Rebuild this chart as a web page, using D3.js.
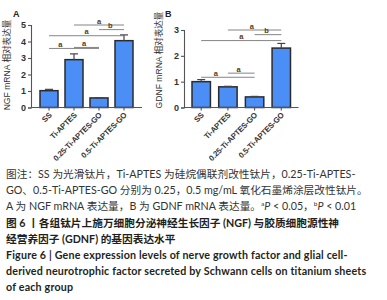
<!DOCTYPE html>
<html>
<head>
<meta charset="utf-8">
<script src="https://cdn.jsdelivr.net/npm/d3@7"></script>
<style>
  html, body { margin: 0; padding: 0; background: #fff; }
  svg { display: block; }
  .cap { font-family: Lato, "Noto Sans CJK SC", sans-serif; font-size: 10.7px; fill: #333; }
  .capb { font-weight: bold; fill: #231f20; }
  .en { letter-spacing: 0.18px; }
</style>
</head>
<body>
<svg id="chart" width="387" height="300"></svg>
<script>
// ---- data ----
const groups = ["SS", "Ti-APTES", "0.25-Ti-APTES-GO", "0.5-Ti-APTES-GO"];
const ngfValues = [1.02, 2.9, 0.58, 4.05];
const ngfErrors = [0.08, 0.35, 0.02, 0.35];
const gdnfValues = [1.0, 0.8, 0.41, 2.3];
const gdnfErrors = [0.08, 0.02, 0.02, 0.18];
const ngfTicks = [0, 1, 2, 3, 4, 5];
const gdnfTicks = [0, 1, 2, 3];
// 顯著性標記: from, to, 線高度(數值), 標籤, 標籤位置(組別索引)
const ngfSig = [
  { from: 1, to: 3, level: 5.0, label: "a", at: 2.0 },
  { from: 2, to: 3, level: 4.72, label: "b", at: 2.45 },
  { from: 0, to: 3, level: 4.35, label: "a", at: 1.5 },
  { from: 1, to: 2, level: 3.64, label: "a", at: 1.4 },
  { from: 0, to: 2, level: 3.58, label: "a", at: 0.45 }
];
const gdnfSig = [
  { from: 1, to: 3, level: 3.0, label: "a", at: 1.9 },
  { from: 2, to: 3, level: 2.82, label: "b", at: 2.45 },
  { from: 0, to: 3, level: 2.59, label: "a", at: 1.5 },
  { from: 1, to: 2, level: 1.33, label: "a", at: 1.4 },
  { from: 0, to: 2, level: 1.17, label: "a", at: 0.55 }
];

const svg = d3.select("#chart");
const chartFont = "'Liberation Sans', Arial, sans-serif";

function drawPanel(opt) {
  const g = svg.append("g");
  const x = d3.scaleBand().domain(groups).range([opt.x0, opt.x1])
    .paddingInner(opt.padIn).paddingOuter(opt.padOut);
  const y = d3.scaleLinear().domain([0, opt.max]).range([107.5, opt.top]);
  const cx = i => x(groups[i]) + x.bandwidth() / 2;

  // bars
  g.selectAll("rect.bar").data(opt.values).join("rect")
    .attr("x", (d, i) => x(groups[i]))
    .attr("y", d => y(d))
    .attr("width", x.bandwidth())
    .attr("height", d => y(0) - y(d))
    .attr("fill", "#4a8ef6")
    .attr("stroke", "#2b2b2b")
    .attr("stroke-width", 1.5);

  // error bars
  opt.values.forEach((v, i) => {
    const e = opt.errors[i];
    g.append("line").attr("x1", cx(i)).attr("x2", cx(i))
      .attr("y1", y(v)).attr("y2", y(v + e))
      .attr("stroke", "#444").attr("stroke-width", 1.2);
    g.append("line").attr("x1", cx(i) - 4).attr("x2", cx(i) + 4)
      .attr("y1", y(v + e)).attr("y2", y(v + e))
      .attr("stroke", "#444").attr("stroke-width", 1.2);
  });

  // axes
  const yAxis = g.append("g").attr("transform", `translate(${opt.x0},0)`)
    .call(d3.axisLeft(y).tickValues(opt.ticks).tickFormat(d3.format("d")).tickSize(3).tickPadding(2));
  yAxis.selectAll("text").attr("font-family", chartFont).attr("font-size", 9)
    .attr("font-weight", "bold").attr("fill", "#333");
  yAxis.selectAll("line, path").attr("stroke", "#555").attr("stroke-width", 1.1);

  const xAxis = g.append("g").attr("transform", `translate(0,${y(0)})`)
    .call(d3.axisBottom(x).tickSize(3).tickSizeOuter(0).tickPadding(2));
  xAxis.select("path").attr("d", `M${opt.x0},0H${opt.x1}`);
  xAxis.selectAll("line, path").attr("stroke", "#555").attr("stroke-width", 1.1);
  xAxis.selectAll("text")
    .attr("font-family", chartFont).attr("font-size", 7.8).attr("fill", "#333")
    .attr("font-weight", "bold").attr("letter-spacing", "-0.2")
    .attr("text-anchor", "end").attr("dy", "0.3em")
    .attr("transform", "translate(-2,3) rotate(-45)");

  // significance lines
  opt.sig.forEach(s => {
    g.append("line").attr("x1", cx(s.from)).attr("x2", cx(s.to))
      .attr("y1", y(s.level)).attr("y2", y(s.level))
      .attr("stroke", "#777").attr("stroke-width", 0.9);
    const lx = x(groups[0]) + x.step() * s.at + x.bandwidth() / 2;
    g.append("text").attr("x", lx).attr("y", y(s.level) - 1.5)
      .attr("text-anchor", "middle").attr("font-family", chartFont)
      .attr("font-size", 7.5).attr("font-weight", "bold").attr("fill", "#5a3a1a")
      .text(s.label);
  });

  // panel letter + y title
  g.append("text").attr("x", opt.letterX).attr("y", 17)
    .attr("font-family", chartFont).attr("font-size", 9).attr("font-weight", "bold")
    .attr("fill", "#222").text(opt.letter);
  g.append("text")
    .attr("transform", `translate(${opt.titleX},${opt.titleY}) rotate(-90)`)
    .attr("text-anchor", "middle")
    .attr("font-family", "'Liberation Sans', 'Noto Sans CJK SC', sans-serif")
    .attr("font-size", 8.6).attr("fill", "#333")
    .text(opt.title);
}

drawPanel({
  x0: 31, x1: 142, padIn: 0.28, padOut: 0.36, max: 5, top: 25,
  values: ngfValues, errors: ngfErrors, ticks: ngfTicks, sig: ngfSig,
  letter: "A", letterX: 13, title: "NGF mRNA 相对表达量", titleX: 10, titleY: 65
});
drawPanel({
  x0: 184, x1: 298.5, padIn: 0.31, padOut: 0.3, max: 3, top: 30,
  values: gdnfValues, errors: gdnfErrors, ticks: gdnfTicks, sig: gdnfSig,
  letter: "B", letterX: 165, title: "GDNF mRNA 相对表达量", titleX: 162, titleY: 60
});

// ---- caption ----
const cap = svg.append("g").attr("class", "cap");
const lh = 16.2, base = 178;
function capLine(i, parts, cls) {
  const t = cap.append("text").attr("x", 6).attr("y", base + i * lh);
  if (cls) t.attr("class", cls);
  parts.forEach(p => {
    const s = t.append("tspan").text(p.t);
    if (p.sup) s.attr("font-size", "6.5px").attr("dy", "-4");
    if (p.down) s.attr("dy", "4");
    if (p.it) s.attr("font-style", "italic");
  });
}
capLine(0, [{ t: "图注：SS 为光滑钛片，Ti-APTES 为硅烷偶联剂改性钛片，0.25-Ti-APTES-" }]);
capLine(1, [{ t: "GO、0.5-Ti-APTES-GO 分别为 0.25，0.5 mg/mL 氧化石墨烯涂层改性钛片。" }]);
capLine(2, [
  { t: "A 为 NGF mRNA 表达量，B 为 GDNF mRNA 表达量。" },
  { t: "a", sup: true }, { t: "P", it: true, down: true }, { t: " < 0.05，" },
  { t: "b", sup: true }, { t: "P", it: true, down: true }, { t: " < 0.01" }
]);
capLine(3, [{ t: "图 6  丨各组钛片上施万细胞分泌神经生长因子 (NGF) 与胶质细胞源性神" }], "capb");
capLine(4, [{ t: "经营养因子 (GDNF) 的基因表达水平" }], "capb");
capLine(5, [{ t: "Figure 6   |    Gene expression levels of nerve growth factor and glial cell-" }], "capb en");
capLine(6, [{ t: "derived neurotrophic factor secreted by Schwann cells on titanium sheets" }], "capb en");
capLine(7, [{ t: "of each group" }], "capb en");
</script>
</body>
</html>
